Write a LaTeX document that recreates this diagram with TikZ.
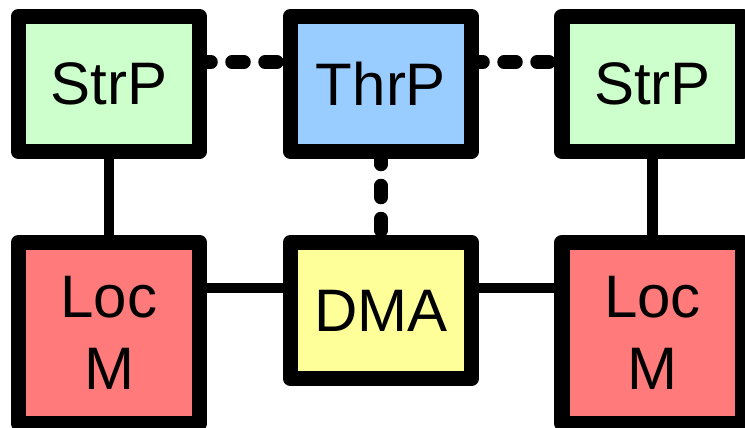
\documentclass[tikz,border=0pt]{standalone}
\usepackage{fontspec}
\setmainfont{Liberation Sans}
\usetikzlibrary{backgrounds}

\definecolor{strpfill}{RGB}{204,255,204}
\definecolor{thrpfill}{RGB}{153,204,255}
\definecolor{dmafill}{RGB}{255,255,153}
\definecolor{locfill}{RGB}{255,122,122}

\tikzset{
  unit/.style={draw=black, line width=15.5pt, line join=round, rectangle,
    inner sep=0pt, minimum width=181pt, align=center,
    font=\fontsize{60}{72}\selectfont},
  proc/.style={unit, minimum height=135pt},
  mem/.style={unit, minimum height=181pt},
  link/.style={draw=black, line width=10.5pt},
  dotlink/.style={draw=black, line width=13.5pt, line cap=round,
    dash pattern=on 12pt off 21pt}
}

\begin{document}
\begin{tikzpicture}[x=1pt,y=-1pt]
  \useasboundingbox (0,0) rectangle (745,428);

  % processors
  \node[proc, fill=strpfill] (strA) at (109,84) {StrP};
  \node[proc, fill=thrpfill] (thrP) at (381,84) {ThrP};
  \node[proc, fill=strpfill] (strB) at (652.5,84) {StrP};

  % memories and DMA engine
  \node[mem, fill=locfill] (locA) at (109,333) {Loc\\M};
  \node[proc, fill=dmafill, minimum height=136pt] (dma) at (381,310.5) {DMA};
  \node[mem, fill=locfill] (locB) at (652.5,333) {Loc\\M};

  \coordinate (busY) at ([yshift=22.5pt]dma.center);
  \coordinate (ctlY) at ([yshift=22pt]thrP.center);

  \begin{pgfonlayer}{background}
    % solid links
    \draw[link] (strA.center) -- (locA.center);
    \draw[link] (strB.center) -- (locB.center);
    \draw[link] (busY -| locA.center) -- (busY);
    \draw[link] (busY) -- (busY -| locB.center);
    % dotted control links
    \draw[dotlink, dash phase=9pt] (ctlY -| strA.center) -- (ctlY);
    \draw[dotlink, dash phase=9pt] (ctlY) -- (ctlY -| strB.center);
    \draw[dotlink, dash phase=30.5pt] (thrP.center) -- (dma.center);
  \end{pgfonlayer}
\end{tikzpicture}
\end{document}
